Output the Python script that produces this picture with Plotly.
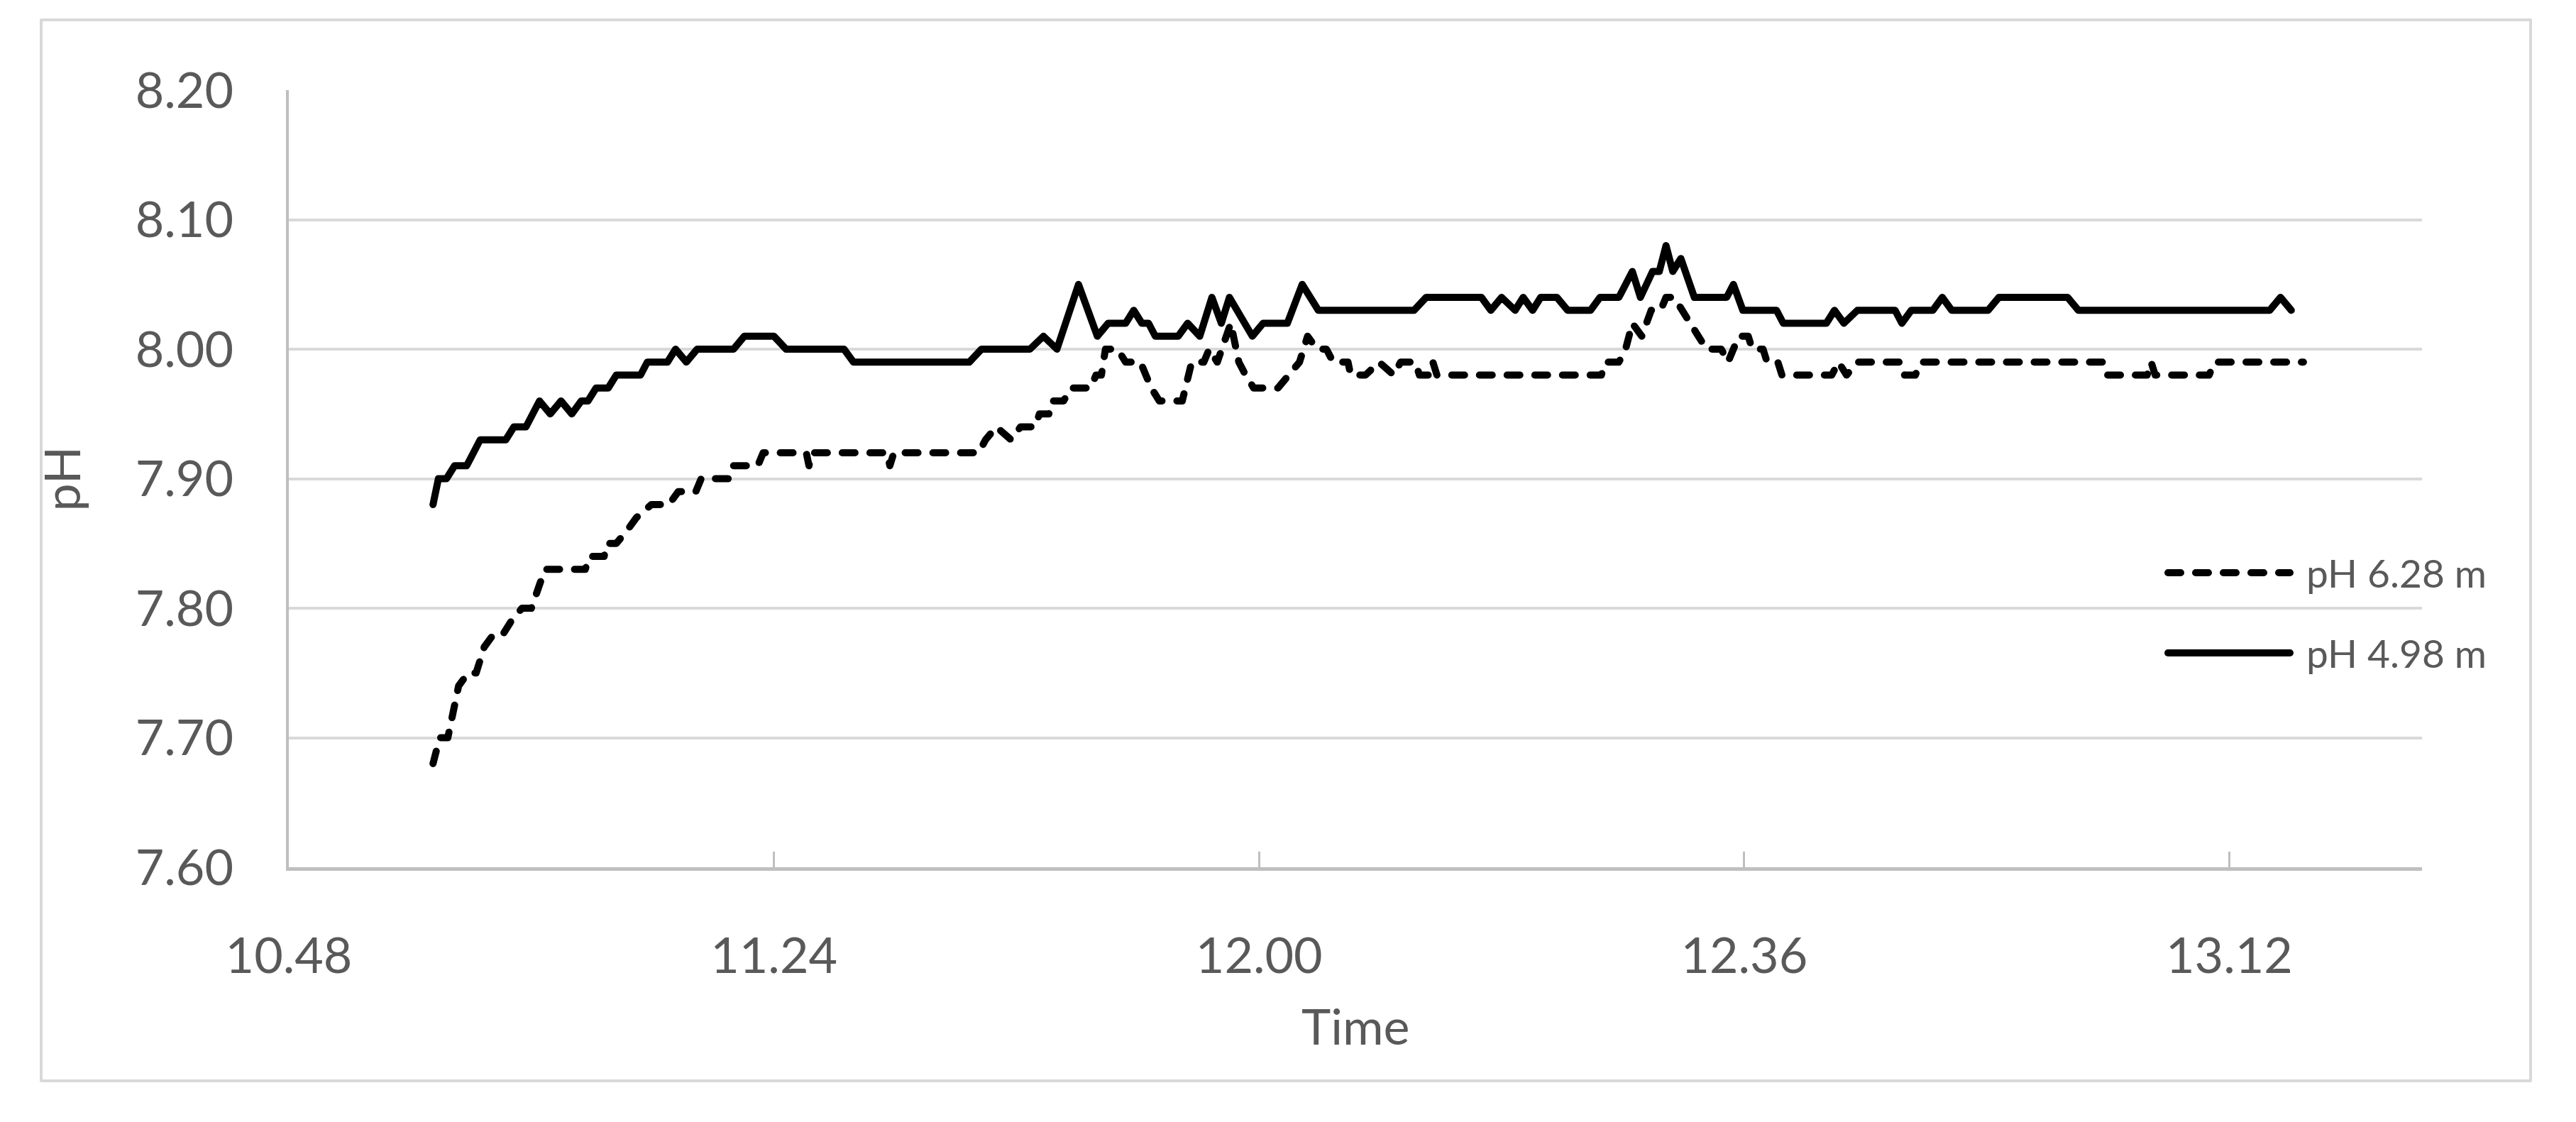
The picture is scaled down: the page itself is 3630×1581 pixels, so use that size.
import plotly.graph_objects as go
import pandas as pd

# Time is stored as minutes after 10:48, pH in units
t_628 = [10.7, 11.2, 11.8, 12.2, 12.6, 13.3, 13.9, 14.5, 15.2, 15.9, 16.5, 17.3, 18.0, 19.0,
         22.0, 22.3, 23.4, 23.6, 24.3, 25.1, 25.8, 26.9, 28.2, 28.9, 30.2, 30.6, 32.6, 32.9,
         34.8, 35.2, 38.4, 38.6, 38.8, 44.4, 44.6, 44.9, 51.2, 51.7, 52.5, 53.6, 54.3, 55.4,
         55.7, 56.4, 56.6, 57.5, 58.0, 59.5, 59.9, 60.3, 60.6, 61.5, 62.1, 63.2, 64.0, 64.6,
         66.3, 67.0, 67.9, 68.3, 68.9, 69.9, 70.5, 71.0, 71.6, 73.4, 74.2, 75.0, 75.6, 76.3,
         77.0, 77.5, 78.6, 78.8, 79.9, 80.9, 82.0, 82.5, 83.6, 83.9, 84.6, 84.9, 85.2, 97.4,
         97.7, 98.7, 99.2, 99.7, 100.4, 101.1, 101.8, 102.2, 102.8, 103.4, 104.1, 104.6, 105.2,
         106.3, 106.8, 107.6, 108.3, 108.6, 109.4, 109.7, 110.5, 110.8, 114.5, 115.0, 115.6,
         116.4, 119.6, 119.9, 120.7, 121.1, 134.6, 134.9, 137.9, 138.2, 138.5, 142.5, 142.9,
         149.5]
ph_628 = [7.68, 7.70, 7.70, 7.72, 7.74, 7.75, 7.75, 7.77, 7.78, 7.78, 7.79, 7.80, 7.80, 7.83,
          7.83, 7.84, 7.84, 7.85, 7.85, 7.86, 7.87, 7.88, 7.88, 7.89, 7.89, 7.90, 7.90, 7.91,
          7.91, 7.92, 7.92, 7.91, 7.92, 7.92, 7.91, 7.92, 7.92, 7.93, 7.94, 7.93, 7.94, 7.94,
          7.95, 7.95, 7.96, 7.96, 7.97, 7.97, 7.98, 7.98, 8.00, 8.00, 7.99, 7.99, 7.97, 7.96,
          7.96, 7.99, 7.99, 8.00, 7.99, 8.02, 7.99, 7.98, 7.97, 7.97, 7.98, 7.99, 8.01, 8.00,
          8.00, 7.99, 7.99, 7.98, 7.98, 7.99, 7.98, 7.99, 7.99, 7.98, 7.98, 7.99, 7.98, 7.98,
          7.99, 7.99, 8.00, 8.02, 8.01, 8.03, 8.03, 8.04, 8.04, 8.03, 8.02, 8.01, 8.00,
          8.00, 7.99, 8.01, 8.01, 8.00, 8.00, 7.99, 7.99, 7.98, 7.98, 7.99, 7.98,
          7.99, 7.99, 7.98, 7.98, 7.99, 7.99, 7.98, 7.98, 7.99, 7.98, 7.98, 7.99,
          7.99]

t_498 = [10.7, 11.1, 11.7, 12.3, 13.2, 14.2, 16.1, 16.7, 17.6, 18.6, 19.4, 20.2, 21.0, 21.7,
         22.2, 22.8, 23.7, 24.3, 26.1, 26.6, 28.1, 28.7, 29.5, 30.3, 33.0, 33.8, 36.0, 36.9,
         41.2, 41.9, 50.5, 51.4, 55.0, 56.0, 57.0, 58.6, 60.0, 60.8, 62.1, 62.7, 63.3, 63.8,
         64.3, 66.0, 66.7, 67.6, 68.5, 69.2, 69.8, 71.5, 72.3, 74.1, 75.2, 76.4, 83.5, 84.4,
         88.5, 89.2, 90.0, 91.0, 91.6, 92.3, 92.9, 94.1, 94.9, 96.6, 97.3, 98.7, 99.7, 100.3,
         101.2, 101.7, 102.2, 102.7, 103.3, 104.3, 106.7, 107.2, 107.9, 110.4, 110.9, 114.1,
         114.7, 115.4, 116.4, 119.2, 119.7, 120.4, 122.0, 122.7, 123.4, 126.1, 126.9, 132.0,
         132.8, 147.0, 147.8, 148.6]
ph_498 = [7.88, 7.90, 7.90, 7.91, 7.91, 7.93, 7.93, 7.94, 7.94, 7.96, 7.95, 7.96, 7.95, 7.96,
          7.96, 7.97, 7.97, 7.98, 7.98, 7.99, 7.99, 8.00, 7.99, 8.00, 8.00, 8.01, 8.01, 8.00,
          8.00, 7.99, 7.99, 8.00, 8.00, 8.01, 8.00, 8.05, 8.01, 8.02, 8.02, 8.03, 8.02, 8.02,
          8.01, 8.01, 8.02, 8.01, 8.04, 8.02, 8.04, 8.01, 8.02, 8.02, 8.05, 8.03, 8.03, 8.04,
          8.04, 8.03, 8.04, 8.03, 8.04, 8.03, 8.04, 8.04, 8.03, 8.03, 8.04, 8.04, 8.06, 8.04,
          8.06, 8.06, 8.08, 8.06, 8.07, 8.04, 8.04, 8.05, 8.03, 8.03, 8.02, 8.02,
          8.03, 8.02, 8.03, 8.03, 8.02, 8.03, 8.03, 8.04, 8.03, 8.03, 8.04, 8.04,
          8.03, 8.03, 8.04, 8.03]

series_names = ["pH 6.28 m", "pH 4.98 m"]
y_ticks = [7.60, 7.70, 7.80, 7.90, 8.00, 8.10, 8.20]
x_tick_times = ["10:48", "11:24", "12:00", "12:36", "13:12"]
x_tick_labels = ["10.48", "11.24", "12.00", "12.36", "13.12"]
x_end_minutes = 158.3

DAY = "2020-01-01 "
start = pd.Timestamp(DAY + "10:48")


def to_time(minutes):
    return start + pd.to_timedelta(pd.Series(minutes), unit="min")


# plot area in pixels of the 3630x1581 page
W, H = 3630, 1581
L, R, T, B = 407, 3413, 127, 1222


def px(x):
    return (x - L) / (R - L)


def py(y):
    return (B - y) / (B - T)


DASH = "18px,21px"  # drawn with round caps, so dashes look ~28px long

fig = go.Figure()

fig.add_trace(go.Scatter(
    x=to_time(t_628), y=ph_628, mode="lines", name=series_names[0],
    line=dict(color="black", width=10, dash=DASH),
))
fig.add_trace(go.Scatter(
    x=to_time(t_498), y=ph_498, mode="lines", name=series_names[1],
    line=dict(color="black", width=10),
))

FONT = "Lato, 'Open Sans', sans-serif"
GREY_TXT = "#595959"

fig.update_layout(
    width=W, height=H,
    margin=dict(l=L, r=W - R, t=T, b=H - B, pad=0),
    paper_bgcolor="white", plot_bgcolor="white",
    showlegend=False,
    font=dict(family=FONT, color=GREY_TXT),
    xaxis=dict(
        type="date",
        range=[start, start + pd.Timedelta(minutes=x_end_minutes)],
        tickvals=[pd.Timestamp(DAY + t) for t in x_tick_times],
        ticktext=x_tick_labels,
        tickfont=dict(size=70, color=GREY_TXT),
        ticks="inside", ticklen=22, tickwidth=3, tickcolor="#bfbfbf",
        showgrid=False, zeroline=False,
        showline=True, linecolor="#bfbfbf", linewidth=5,
        ticklabelstandoff=60,
    ),
    yaxis=dict(
        range=[7.6, 8.2],
        tickvals=y_ticks,
        tickformat=".2f",
        tickfont=dict(size=70, color=GREY_TXT),
        gridcolor="#d9d9d9", gridwidth=4,
        zeroline=False,
        showline=True, linecolor="#bfbfbf", linewidth=4,
        ticks="", ticklabelstandoff=60,
    ),
)

# outer chart frame
fig.add_shape(type="rect", xref="paper", yref="paper",
              x0=px(58), x1=px(3566), y0=py(1523), y1=py(28),
              line=dict(color="#d9d9d9", width=4), layer="below")

# axis titles
fig.add_annotation(text="pH", xref="paper", yref="paper", x=px(85), y=0.5,
                   textangle=-90, showarrow=False, xanchor="center", yanchor="middle",
                   font=dict(size=70, color=GREY_TXT))
fig.add_annotation(text="Time", xref="paper", yref="paper", x=0.5, y=py(1445),
                   showarrow=False, xanchor="center", yanchor="middle",
                   font=dict(size=70, color=GREY_TXT))

# legend drawn by hand so the sample lines can be as long as in the original
legend_rows = [(807, DASH), (920, "solid")]
for (row_y, dash), name in zip(legend_rows, series_names):
    fig.add_shape(type="line", xref="paper", yref="paper",
                  x0=px(3055), x1=px(3227), y0=py(row_y), y1=py(row_y),
                  line=dict(color="black", width=10, dash=dash))
    fig.add_annotation(text=name, xref="paper", yref="paper", x=px(3248), y=py(row_y),
                       showarrow=False, xanchor="left", yanchor="middle",
                       font=dict(size=55, color=GREY_TXT))

round_lines = (
    "var s=document.createElement('style');"
    "s.textContent='.scatterlayer .js-line, .shapelayer path'"
    "+'{stroke-linejoin:round;stroke-linecap:round}';"
    "document.head.appendChild(s);"
    "document.body.style.margin='0';"
)

fig.write_html("out.html", config={"displayModeBar": False}, post_script=round_lines)
